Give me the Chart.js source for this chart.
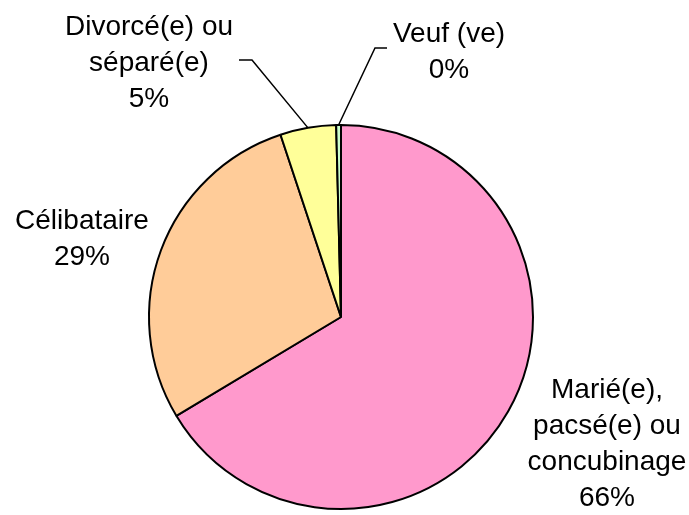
<!DOCTYPE html>
<html>
<head>
<meta charset="utf-8">
<script src="https://cdn.jsdelivr.net/npm/chart.js@4/dist/chart.umd.min.js"></script>
<style>
    html, body { margin: 0; padding: 0; background: #fff; }
    #wrap { width: 689px; height: 515px; position: relative; }
</style>
</head>
<body>
<div id="wrap"><canvas id="pieChart" width="689" height="515"></canvas></div>
<script>
// Situation familiale (percent)
const categories = [
    ['Marié(e),', 'pacsé(e) ou', 'concubinage'],
    ['Célibataire'],
    ['Divorcé(e) ou', 'séparé(e)'],
    ['Veuf (ve)']
];
const shares = [66.4, 28.5, 4.7, 0.4];
const sliceColors = ['#FF99CC', '#FFCC99', '#FFFF99', '#CCFFCC'];

// where each label block sits (center x, first baseline) and its leader elbow, if any
const labelLayout = [
    { x: 607, y: 398 },
    { x: 82, y: 229 },
    { x: 149, y: 35, elbow: [252, 60], end: [239, 60] },
    { x: 449, y: 42, elbow: [375, 48], end: [387, 48] }
];

const FONT = '28px "Liberation Sans", Arial, sans-serif';
const LINE_H = 36;

const outsideLabels = {
    id: 'outsideLabels',
    afterDatasetsDraw(chart) {
        const ctx = chart.ctx;
        const meta = chart.getDatasetMeta(0);
        ctx.save();
        ctx.font = FONT;
        ctx.fillStyle = '#000';
        ctx.textAlign = 'center';
        ctx.textBaseline = 'alphabetic';

        meta.data.forEach((arc, i) => {
            const pos = labelLayout[i];
            const lines = categories[i].concat([Math.round(shares[i]) + '%']);
            lines.forEach((line, j) => {
                ctx.fillText(line, pos.x, pos.y + j * LINE_H);
            });

            if (pos.elbow) {
                const mid = (arc.startAngle + arc.endAngle) / 2;
                const sx = arc.x + Math.cos(mid) * arc.outerRadius;
                const sy = arc.y + Math.sin(mid) * arc.outerRadius;
                ctx.beginPath();
                ctx.moveTo(sx, sy);
                ctx.lineTo(pos.elbow[0], pos.elbow[1]);
                ctx.lineTo(pos.end[0], pos.end[1]);
                ctx.strokeStyle = '#000';
                ctx.lineWidth = 1.5;
                ctx.stroke();
            }
        });
        ctx.restore();
    }
};

new Chart(document.getElementById('pieChart'), {
    type: 'pie',
    data: {
        labels: categories,
        datasets: [{
            data: shares,
            backgroundColor: sliceColors,
            borderColor: '#000',
            borderWidth: 2,
            hoverOffset: 0
        }]
    },
    options: {
        responsive: false,
        animation: false,
        layout: {
            padding: { top: 124, bottom: 5, left: 148, right: 155 }
        },
        plugins: {
            legend: { display: false },
            tooltip: { enabled: false }
        }
    },
    plugins: [outsideLabels]
});
</script>
</body>
</html>
